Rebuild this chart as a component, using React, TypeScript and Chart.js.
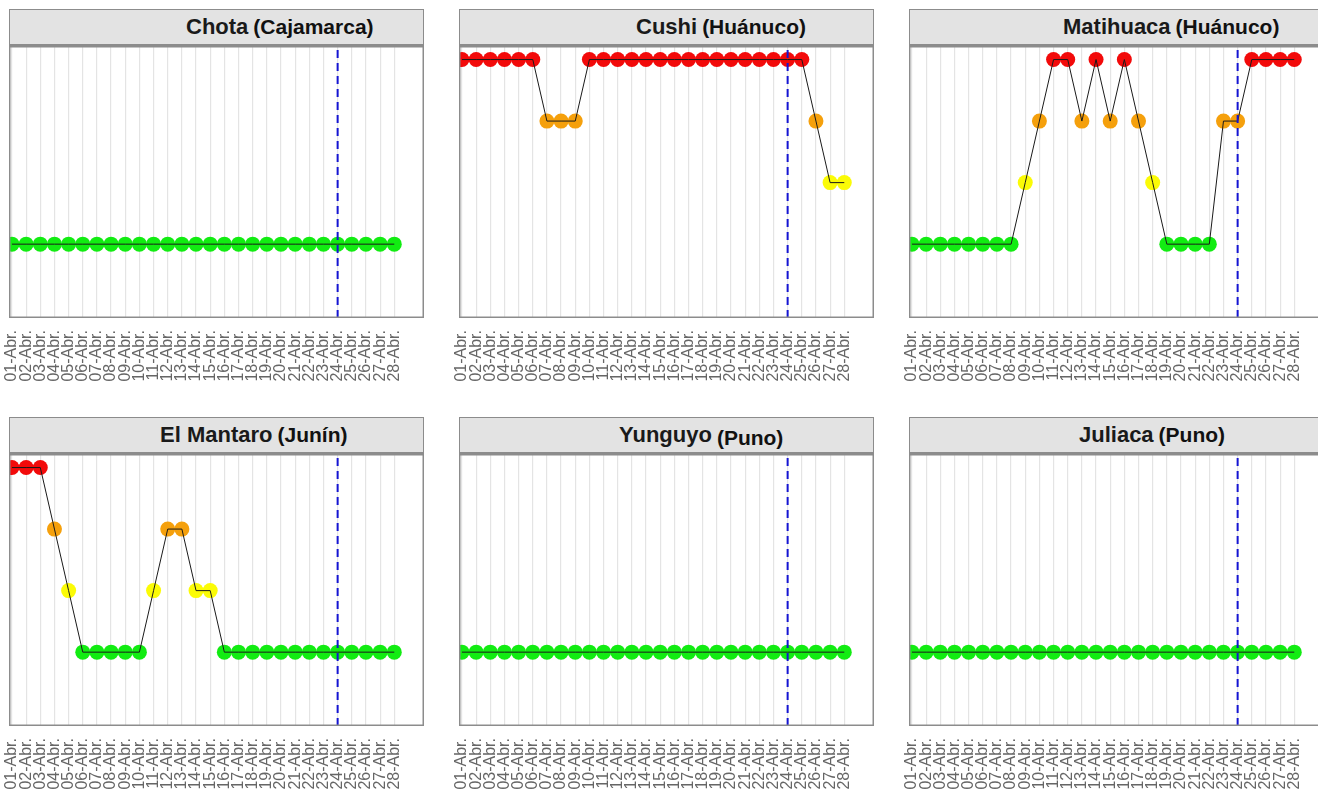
import React, { useEffect, useRef } from "react";
import { Chart, registerables } from "chart.js";

Chart.register(...registerables);

// ---------------- DATA ----------------
const DAYS = [
  "01-Abr.", "02-Abr.", "03-Abr.", "04-Abr.", "05-Abr.", "06-Abr.", "07-Abr.",
  "08-Abr.", "09-Abr.", "10-Abr.", "11-Abr.", "12-Abr.", "13-Abr.", "14-Abr.",
  "15-Abr.", "16-Abr.", "17-Abr.", "18-Abr.", "19-Abr.", "20-Abr.", "21-Abr.",
  "22-Abr.", "23-Abr.", "24-Abr.", "25-Abr.", "26-Abr.", "27-Abr.", "28-Abr.",
];

const CUTOFF_DAY = "24-Abr.";

const STATIONS = ["Chota", "Cushi", "Matihuaca", "El Mantaro", "Yunguyo", "Juliaca"];
const REGIONS = ["(Cajamarca)", "(Huánuco)", "(Huánuco)", "(Junín)", "(Puno)", "(Puno)"];

// level 1 = green, 2 = yellow, 3 = orange, 4 = red
const CHOTA = [1, 1, 1, 1, 1, 1, 1, 1, 1, 1, 1, 1, 1, 1, 1, 1, 1, 1, 1, 1, 1, 1, 1, 1, 1, 1, 1, 1];
const CUSHI = [4, 4, 4, 4, 4, 4, 3, 3, 3, 4, 4, 4, 4, 4, 4, 4, 4, 4, 4, 4, 4, 4, 4, 4, 4, 3, 2, 2];
const MATIHUACA = [1, 1, 1, 1, 1, 1, 1, 1, 2, 3, 4, 4, 3, 4, 3, 4, 3, 2, 1, 1, 1, 1, 3, 3, 4, 4, 4, 4];
const EL_MANTARO = [4, 4, 4, 3, 2, 1, 1, 1, 1, 1, 2, 3, 3, 2, 2, 1, 1, 1, 1, 1, 1, 1, 1, 1, 1, 1, 1, 1];
const YUNGUYO = [1, 1, 1, 1, 1, 1, 1, 1, 1, 1, 1, 1, 1, 1, 1, 1, 1, 1, 1, 1, 1, 1, 1, 1, 1, 1, 1, 1];
const JULIACA = [1, 1, 1, 1, 1, 1, 1, 1, 1, 1, 1, 1, 1, 1, 1, 1, 1, 1, 1, 1, 1, 1, 1, 1, 1, 1, 1, 1];

const SERIES = [CHOTA, CUSHI, MATIHUACA, EL_MANTARO, YUNGUYO, JULIACA];

// ---------------- STYLE / LAYOUT ----------------
const LEVEL_COLORS = ["#12ec12", "#fbfb06", "#f5a00c", "#f20a0a"];
const Y_MIN = -0.2;
const Y_MAX = 4.22;
const X_MIN = -0.21;
const X_MAX = 29.1;

const PANEL_LEFTS = [9, 459, 909];
const ROW_TOPS = [9, 417];
const PANEL_W = 415;
const HEADER_H = 37;
const PLOT_H = 272;
const AXIS_H = 70;
const LEFT_PAD = 9;
const TITLE_LEFTS = [176, 176, 153, 150, 159, 169];
const PAREN_SHIFT = [0, 0, 0, 0, 3, 0];
const FONT = '"Liberation Sans", Arial, Helvetica, sans-serif';

const framePlugin = {
  id: "frame",
  afterDraw(chart: any) {
    const { ctx, chartArea: a } = chart;
    ctx.save();
    ctx.strokeStyle = "#8c8c8c";
    ctx.lineWidth = 1.5;
    ctx.strokeRect(a.left + 0.75, a.top + 0.75, a.right - a.left - 1.5, a.bottom - a.top - 1.5);
    ctx.restore();
  },
};

function Panel({ idx }: { idx: number }) {
  const ref = useRef<HTMLCanvasElement>(null);

  useEffect(() => {
    const values = SERIES[idx];
    const pts = values.map((v, i) => ({ x: i, y: v }));
    const cut = DAYS.indexOf(CUTOFF_DAY);
    const chart = new Chart(ref.current as HTMLCanvasElement, {
      type: "line",
      data: {
        datasets: [
          {
            label: "corte",
            data: [
              { x: cut, y: Y_MIN },
              { x: cut, y: Y_MAX },
            ],
            borderColor: "#1414d2",
            borderWidth: 2,
            borderDash: [8, 5],
            pointRadius: 0,
            order: 0,
            clip: 0,
          } as any,
          {
            label: "linea",
            data: pts,
            borderColor: "#1a1a1a",
            borderWidth: 1,
            pointRadius: 0,
            tension: 0,
            order: 1,
            clip: 0,
          } as any,
          {
            label: "nivel",
            data: pts,
            showLine: false,
            pointRadius: 7.5,
            pointBorderWidth: 0,
            pointBackgroundColor: values.map((v) => LEVEL_COLORS[v - 1]),
            pointBorderColor: values.map((v) => LEVEL_COLORS[v - 1]),
            order: 2,
            clip: 0,
          } as any,
        ],
      },
      options: {
        animation: false,
        responsive: true,
        maintainAspectRatio: false,
        events: [],
        layout: { padding: { left: LEFT_PAD, right: 0, top: 0, bottom: 0 }, autoPadding: false },
        plugins: {
          legend: { display: false },
          tooltip: { enabled: false },
          title: { display: false },
        },
        scales: {
          x: {
            type: "linear",
            min: X_MIN,
            max: X_MAX,
            border: { display: false },
            grid: { color: "#e4e4e4", lineWidth: 1.2, drawTicks: false },
            afterBuildTicks: (s: any) => {
              s.ticks = DAYS.map((_, i) => ({ value: i }));
            },
            afterFit: (s: any) => {
              s.height = AXIS_H;
              s.paddingLeft = 0;
              s.paddingRight = 0;
            },
            ticks: {
              autoSkip: false,
              minRotation: 90,
              maxRotation: 90,
              padding: 12,
              color: "#666666",
              font: { family: FONT, size: 16 },
              callback: (v: any) => DAYS[v] ?? "",
            },
          },
          y: {
            type: "linear",
            min: Y_MIN,
            max: Y_MAX,
            display: false,
          },
        },
      } as any,
      plugins: [framePlugin],
    });
    return () => chart.destroy();
  }, [idx]);

  const col = idx % 3;
  const row = Math.floor(idx / 3);
  const left = PANEL_LEFTS[col];
  const top = ROW_TOPS[row];

  return (
    <>
      <div
        style={{
          position: "absolute",
          left,
          top,
          width: PANEL_W,
          height: HEADER_H,
          boxSizing: "border-box",
          background: "#e3e3e3",
          borderTop: "1.5px solid #8c8c8c",
          borderLeft: "1.5px solid #8c8c8c",
          borderRight: "1.5px solid #8c8c8c",
          borderBottom: "2px solid #8c8c8c",
        }}
      >
        <div
          style={{
            position: "absolute",
            left: TITLE_LEFTS[idx],
            top: 3,
            lineHeight: "28px",
            whiteSpace: "nowrap",
            fontFamily: FONT,
            fontWeight: "bold",
            color: "#1a1a1a",
          }}
        >
          <span style={{ fontSize: 22 }}>{STATIONS[idx]}</span>
          <span
            style={{
              fontSize: 21,
              marginLeft: 5,
              position: "relative",
              top: PAREN_SHIFT[idx],
              color: "#111",
            }}
          >
            {REGIONS[idx]}
          </span>
        </div>
      </div>
      <div
        style={{
          position: "absolute",
          left: left - LEFT_PAD,
          top: top + HEADER_H,
          width: PANEL_W + LEFT_PAD,
          height: PLOT_H + AXIS_H,
        }}
      >
        <canvas ref={ref} />
      </div>
    </>
  );
}

export default function App() {
  return (
    <div
      style={{
        position: "fixed",
        left: 0,
        top: 0,
        width: 1318,
        height: 795,
        overflow: "hidden",
        background: "#ffffff",
      }}
    >
      {SERIES.map((_, i) => (
        <Panel key={i} idx={i} />
      ))}
    </div>
  );
}
